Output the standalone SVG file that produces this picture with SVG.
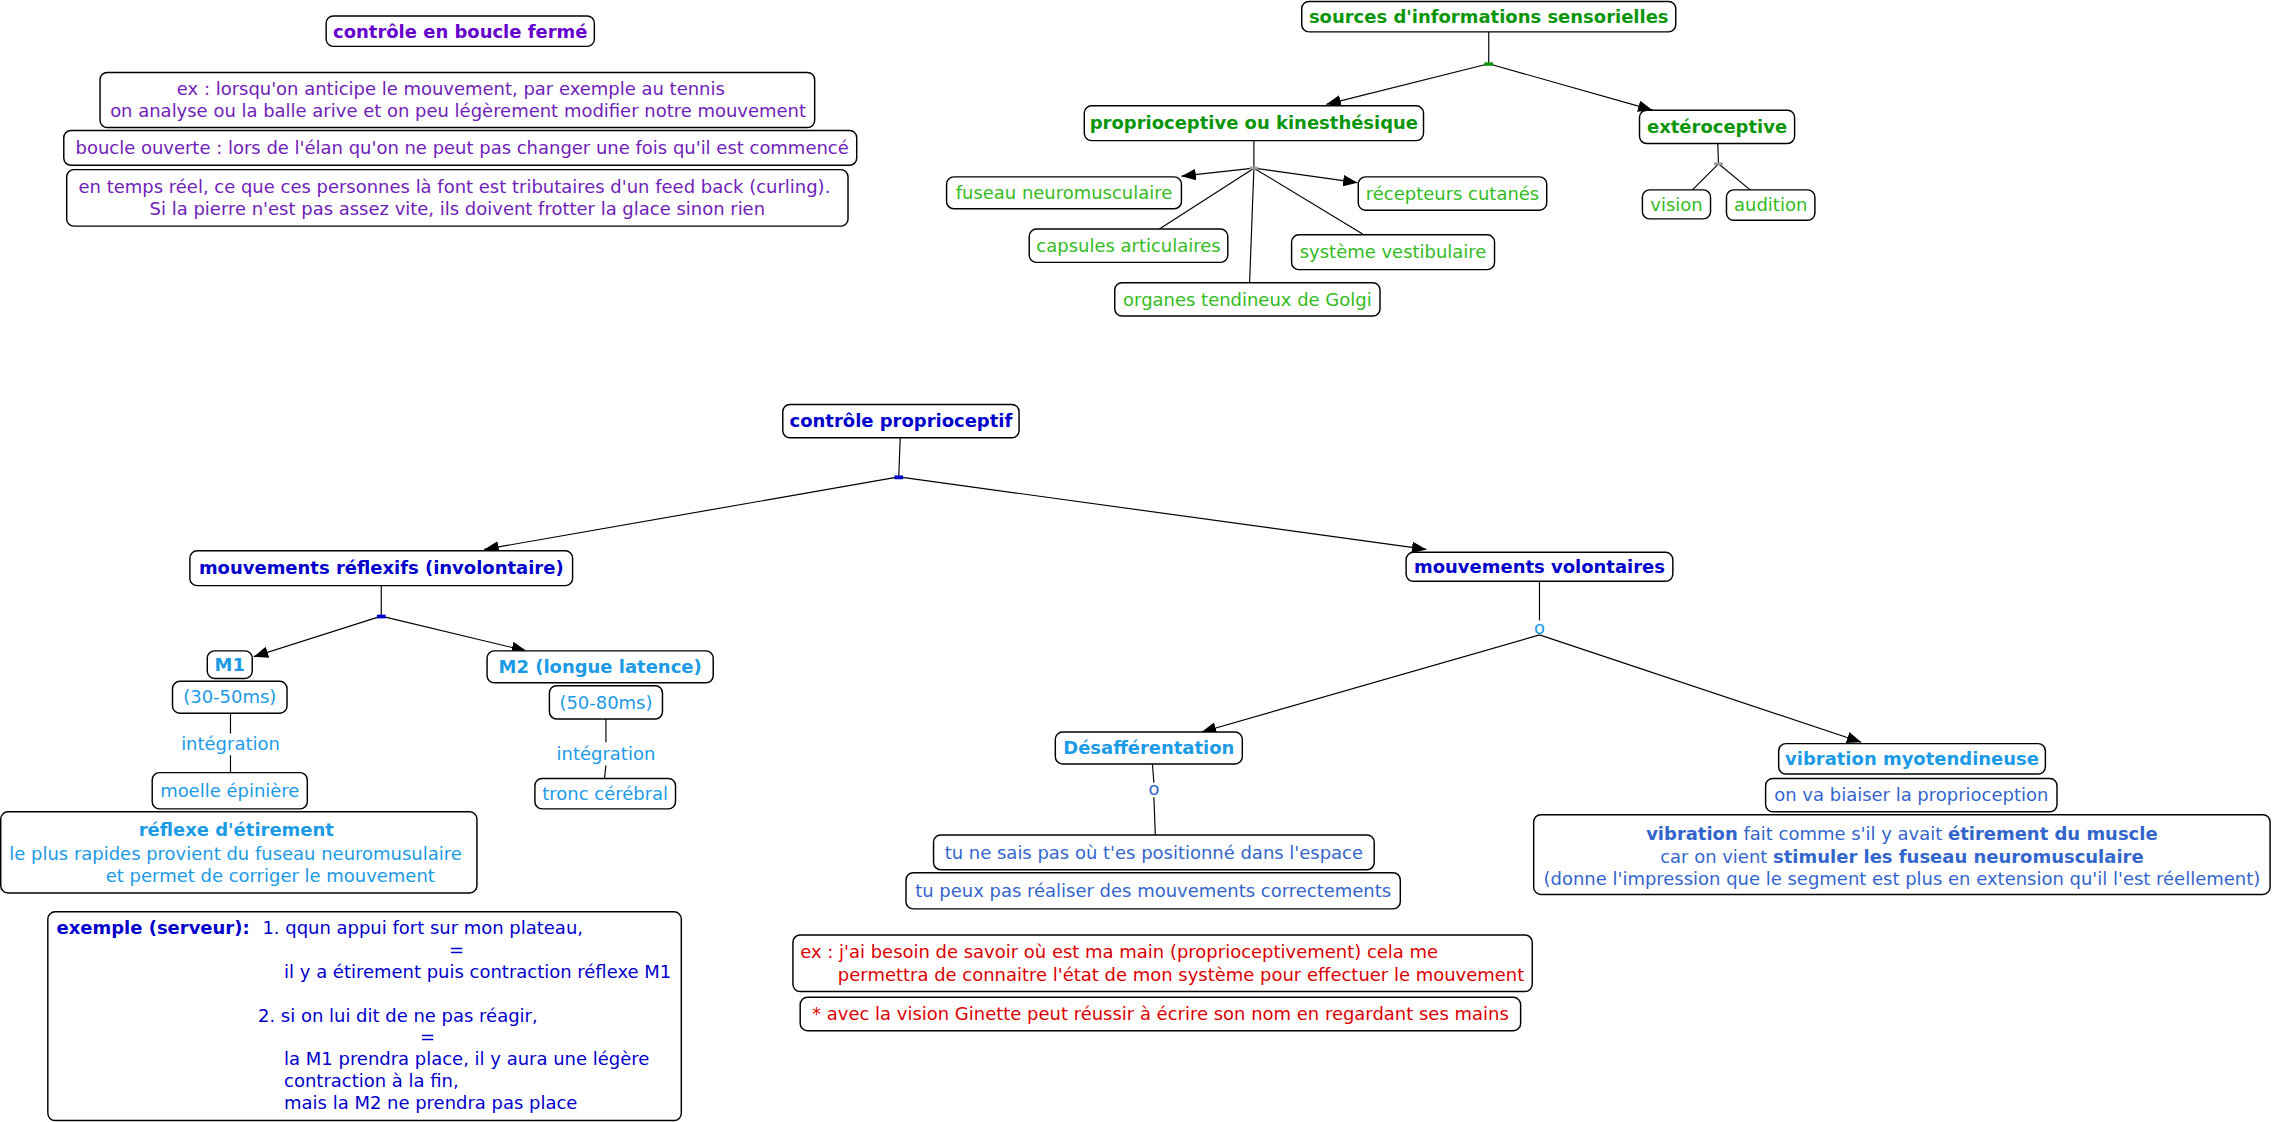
<svg xmlns="http://www.w3.org/2000/svg" width="2273" height="1122" viewBox="0 0 2273 1122">
<style>
.bx{fill:#fff;stroke:#000;stroke-width:1}
.t{font-family:"DejaVu Sans",Verdana,sans-serif;font-size:12.4px}
.c{text-anchor:middle}
.b{font-weight:bold}
.pu{fill:#6600cc}
.pu2{fill:#7022b8}
.gd{fill:#0a960a}
.gl{fill:#33bb22}
.bl{fill:#0000cc}
.lb{fill:#1b9ae6}
.mb{fill:#3366cc}
.rd{fill:#dd0000}
.ln{stroke:#000;stroke-width:0.8;fill:none}
.ar{marker-end:url(#ah)}
</style>
<defs>
<marker id="ah" markerUnits="userSpaceOnUse" markerWidth="10" markerHeight="8" refX="10" refY="4" orient="auto">
<path d="M0,0 L10,4 L0,8 z" fill="#000"/>
</marker>
</defs>
<rect width="2273" height="1122" fill="#fff"/>
<g transform="scale(1.4496)">
<g id="connectors">
<line class="ln" x1="1027" y1="22" x2="1027" y2="44"/>
<line class="ln ar" x1="1027" y1="44" x2="915" y2="72"/>
<line class="ln ar" x1="1027" y1="44" x2="1140" y2="76"/>
<line class="ln" x1="865" y1="97" x2="865" y2="116"/>
<line class="ln ar" x1="865" y1="116" x2="815" y2="121.5"/>
<line class="ln ar" x1="865" y1="116" x2="936.5" y2="126"/>
<line class="ln" x1="865" y1="116" x2="799" y2="158.5"/>
<line class="ln" x1="865" y1="116" x2="862" y2="195.5"/>
<line class="ln" x1="865" y1="116" x2="940" y2="161.5"/>
<line class="ln" x1="1185" y1="99" x2="1185.5" y2="113"/>
<line class="ln" x1="1185.5" y1="113" x2="1167.5" y2="131"/>
<line class="ln" x1="1185.5" y1="113" x2="1208.6" y2="132"/>
<line class="ln" x1="621" y1="302" x2="620" y2="329"/>
<line class="ln ar" x1="620" y1="329" x2="334" y2="379"/>
<line class="ln ar" x1="620" y1="329" x2="984" y2="379"/>
<line class="ln" x1="263" y1="404" x2="263" y2="425"/>
<line class="ln ar" x1="263" y1="425" x2="175" y2="453"/>
<line class="ln ar" x1="263" y1="425" x2="363" y2="449"/>
<line class="ln" x1="159" y1="492" x2="159" y2="506"/>
<line class="ln" x1="159" y1="521" x2="159" y2="533"/>
<line class="ln" x1="418" y1="496" x2="418" y2="512"/>
<line class="ln" x1="418" y1="528" x2="417" y2="537"/>
<line class="ln" x1="1062" y1="401" x2="1062" y2="428"/>
<line class="ln ar" x1="1062" y1="438" x2="829" y2="505"/>
<line class="ln ar" x1="1062" y1="438" x2="1284" y2="512"/>
<line class="ln" x1="795" y1="527" x2="796" y2="540"/>
<line class="ln" x1="796" y1="550" x2="797" y2="576"/>
<rect x="1024" y="43" width="6" height="2.4" fill="#0a960a"/>
<rect x="862" y="115" width="6" height="2" fill="#999"/>
<rect x="1182.5" y="112" width="6" height="2" fill="#999"/>
<rect x="617" y="328" width="6" height="2.6" fill="#0000cc"/>
<rect x="260" y="424" width="6" height="2.6" fill="#0000cc"/>
<text class="t c lb" x="1062" y="437.5">o</text>
<text class="t c mb" x="796" y="548.5">o</text>
<text class="t c lb" x="159" y="517.5">intégration</text>
<text class="t c lb" x="418" y="524">intégration</text>
</g>

<g id="n-boucle-ferme">
<rect class="bx" x="225" y="11" width="185" height="21" rx="5"/>
<text class="t c b pu" x="317.5" y="26">contrôle en boucle fermé</text>
</g>
<g id="n-ex-tennis">
<rect class="bx" x="69" y="50" width="493" height="38" rx="5"/>
<text class="t c pu2" x="311" y="65.5">ex : lorsqu'on anticipe le mouvement, par exemple au tennis</text>
<text class="t c pu2" x="316" y="81">on analyse ou la balle arive et on peu légèrement modifier notre mouvement</text>
</g>
<g id="n-boucle-ouverte">
<rect class="bx" x="44" y="90" width="547" height="24" rx="5"/>
<text class="t c pu2" x="318.8" y="106.3">boucle ouverte : lors de l'élan qu'on ne peut pas changer une fois qu'il est commencé</text>
</g>
<g id="n-temps-reel">
<rect class="bx" x="46" y="117" width="539" height="39" rx="5"/>
<text class="t c pu2" x="313.5" y="133">en temps réel, ce que ces personnes là font est tributaires d'un feed back (curling).</text>
<text class="t c pu2" x="315.5" y="148.5">Si la pierre n'est pas assez vite, ils doivent frotter la glace sinon rien</text>
</g>

<g id="n-sources">
<rect class="bx" x="898" y="1" width="258" height="21" rx="5"/>
<text class="t c b gd" x="1027" y="16">sources d'informations sensorielles</text>
</g>
<g id="n-proprio">
<rect class="bx" x="748" y="73" width="234" height="24" rx="5"/>
<text class="t c b gd" x="865" y="89.3">proprioceptive ou kinesthésique</text>
</g>
<g id="n-fuseau">
<rect class="bx" x="653" y="122" width="162" height="22" rx="5"/>
<text class="t c gl" x="734" y="137.3">fuseau neuromusculaire</text>
</g>
<g id="n-recepteurs">
<rect class="bx" x="937" y="122" width="130" height="23" rx="5"/>
<text class="t c gl" x="1002" y="137.8">récepteurs cutanés</text>
</g>
<g id="n-capsules">
<rect class="bx" x="710" y="158" width="137" height="23" rx="5"/>
<text class="t c gl" x="778.5" y="173.8">capsules articulaires</text>
</g>
<g id="n-vestibulaire">
<rect class="bx" x="891" y="162" width="140" height="24" rx="5"/>
<text class="t c gl" x="961" y="178.3">système vestibulaire</text>
</g>
<g id="n-golgi">
<rect class="bx" x="769" y="195" width="183" height="23" rx="5"/>
<text class="t c gl" x="860.5" y="210.8">organes tendineux de Golgi</text>
</g>
<g id="n-extero">
<rect class="bx" x="1131" y="76" width="107" height="23" rx="5"/>
<text class="t c b gd" x="1184.5" y="91.8">extéroceptive</text>
</g>
<g id="n-vision">
<rect class="bx" x="1133" y="131" width="47" height="20" rx="5"/>
<text class="t c gl" x="1156.5" y="145.3">vision</text>
</g>
<g id="n-audition">
<rect class="bx" x="1191" y="131" width="61" height="21" rx="5"/>
<text class="t c gl" x="1221.5" y="145.8">audition</text>
</g>

<g id="n-controle-proprio">
<rect class="bx" x="540" y="279" width="163" height="23" rx="5"/>
<text class="t c b bl" x="621.5" y="294.8">contrôle proprioceptif</text>
</g>
<g id="n-reflexifs">
<rect class="bx" x="131" y="380" width="264" height="24" rx="5"/>
<text class="t c b bl" x="263" y="396.3">mouvements réflexifs (involontaire)</text>
</g>
<g id="n-volontaires">
<rect class="bx" x="970" y="381" width="184" height="20" rx="5"/>
<text class="t c b bl" x="1062" y="395.3">mouvements volontaires</text>
</g>
<g id="n-m1">
<rect class="bx" x="143" y="449" width="31" height="19" rx="5"/>
<text class="t c b lb" x="158.5" y="462.8">M1</text>
</g>
<g id="n-30-50">
<rect class="bx" x="119" y="470" width="79" height="22" rx="5"/>
<text class="t c lb" x="158.5" y="485.3">(30-50ms)</text>
</g>
<g id="n-moelle">
<rect class="bx" x="105" y="533" width="107" height="25" rx="5"/>
<text class="t c lb" x="158.5" y="549.8">moelle épinière</text>
</g>
<g id="n-reflexe-etirement">
<rect class="bx" x="0.5" y="560" width="328.5" height="56" rx="5"/>
<text class="t c b lb" x="163" y="577">réflexe d'étirement</text>
<text class="t lb" x="6.4" y="593">le plus rapides provient du fuseau neuromusulaire</text>
<text class="t lb" x="73" y="608.5">et permet de corriger le mouvement</text>
</g>
<g id="n-m2">
<rect class="bx" x="336" y="449" width="156" height="22" rx="5"/>
<text class="t c b lb" x="414" y="464.3">M2 (longue latence)</text>
</g>
<g id="n-50-80">
<rect class="bx" x="379" y="473" width="78" height="23" rx="5"/>
<text class="t c lb" x="418" y="488.8">(50-80ms)</text>
</g>
<g id="n-tronc">
<rect class="bx" x="369" y="537" width="97" height="21" rx="5"/>
<text class="t c lb" x="417.5" y="551.8">tronc cérébral</text>
</g>
<g id="n-exemple">
<rect class="bx" x="33" y="629" width="437" height="144" rx="5"/>
<text class="t bl" x="39" y="644.3"><tspan class="b">exemple (serveur):</tspan><tspan x="181">1. qqun appui fort sur mon plateau,</tspan></text>
<text class="t c bl" x="315" y="659.4">=</text>
<text class="t bl" x="196" y="674.5">il y a étirement puis contraction réflexe M1</text>
<text class="t bl" x="178" y="704.7">2. si on lui dit de ne pas réagir,</text>
<text class="t c bl" x="295" y="719.8">=</text>
<text class="t bl" x="196" y="734.9">la M1 prendra place, il y aura une légère</text>
<text class="t bl" x="196" y="750">contraction à la fin,</text>
<text class="t bl" x="196" y="765.1">mais la M2 ne prendra pas place</text>
</g>

<g id="n-desafferentation">
<rect class="bx" x="728" y="505" width="129" height="22" rx="5"/>
<text class="t c b lb" x="792.5" y="520.3">Désafférentation</text>
</g>
<g id="n-ne-sais-pas">
<rect class="bx" x="644" y="576" width="304" height="24" rx="5"/>
<text class="t c mb" x="796" y="592.3">tu ne sais pas où t'es positionné dans l'espace</text>
</g>
<g id="n-peux-pas">
<rect class="bx" x="625" y="602" width="341" height="25" rx="5"/>
<text class="t c mb" x="795.5" y="618.8">tu peux pas réaliser des mouvements correctements</text>
</g>
<g id="n-ex-main">
<rect class="bx" x="547" y="645" width="510" height="39" rx="5"/>
<text class="t rd" x="552" y="661">ex : j'ai besoin de savoir où est ma main (proprioceptivement) cela me</text>
<text class="t rd" x="578" y="676.5">permettra de connaitre l'état de mon système pour effectuer le mouvement</text>
</g>
<g id="n-ginette">
<rect class="bx" x="552" y="688" width="497" height="23" rx="5"/>
<text class="t c rd" x="800.5" y="703.8">* avec la vision Ginette peut réussir à écrire son nom en regardant ses mains</text>
</g>
<g id="n-vibration">
<rect class="bx" x="1227" y="513" width="184" height="21" rx="5"/>
<text class="t c b lb" x="1319" y="527.8">vibration myotendineuse</text>
</g>
<g id="n-biaiser">
<rect class="bx" x="1218" y="537" width="201" height="23" rx="5"/>
<text class="t c mb" x="1318.5" y="552.8">on va biaiser la proprioception</text>
</g>
<g id="n-vibration-detail">
<rect class="bx" x="1058" y="562" width="508" height="55" rx="5"/>
<text class="t c mb" x="1312" y="579.5"><tspan class="b">vibration</tspan> fait comme s'il y avait <tspan class="b">étirement du muscle</tspan></text>
<text class="t c mb" x="1312" y="595">car on vient <tspan class="b">stimuler les fuseau neuromusculaire</tspan></text>
<text class="t c mb" x="1312" y="610.5">(donne l'impression que le segment est plus en extension qu'il l'est réellement)</text>
</g>
</g>
</svg>
